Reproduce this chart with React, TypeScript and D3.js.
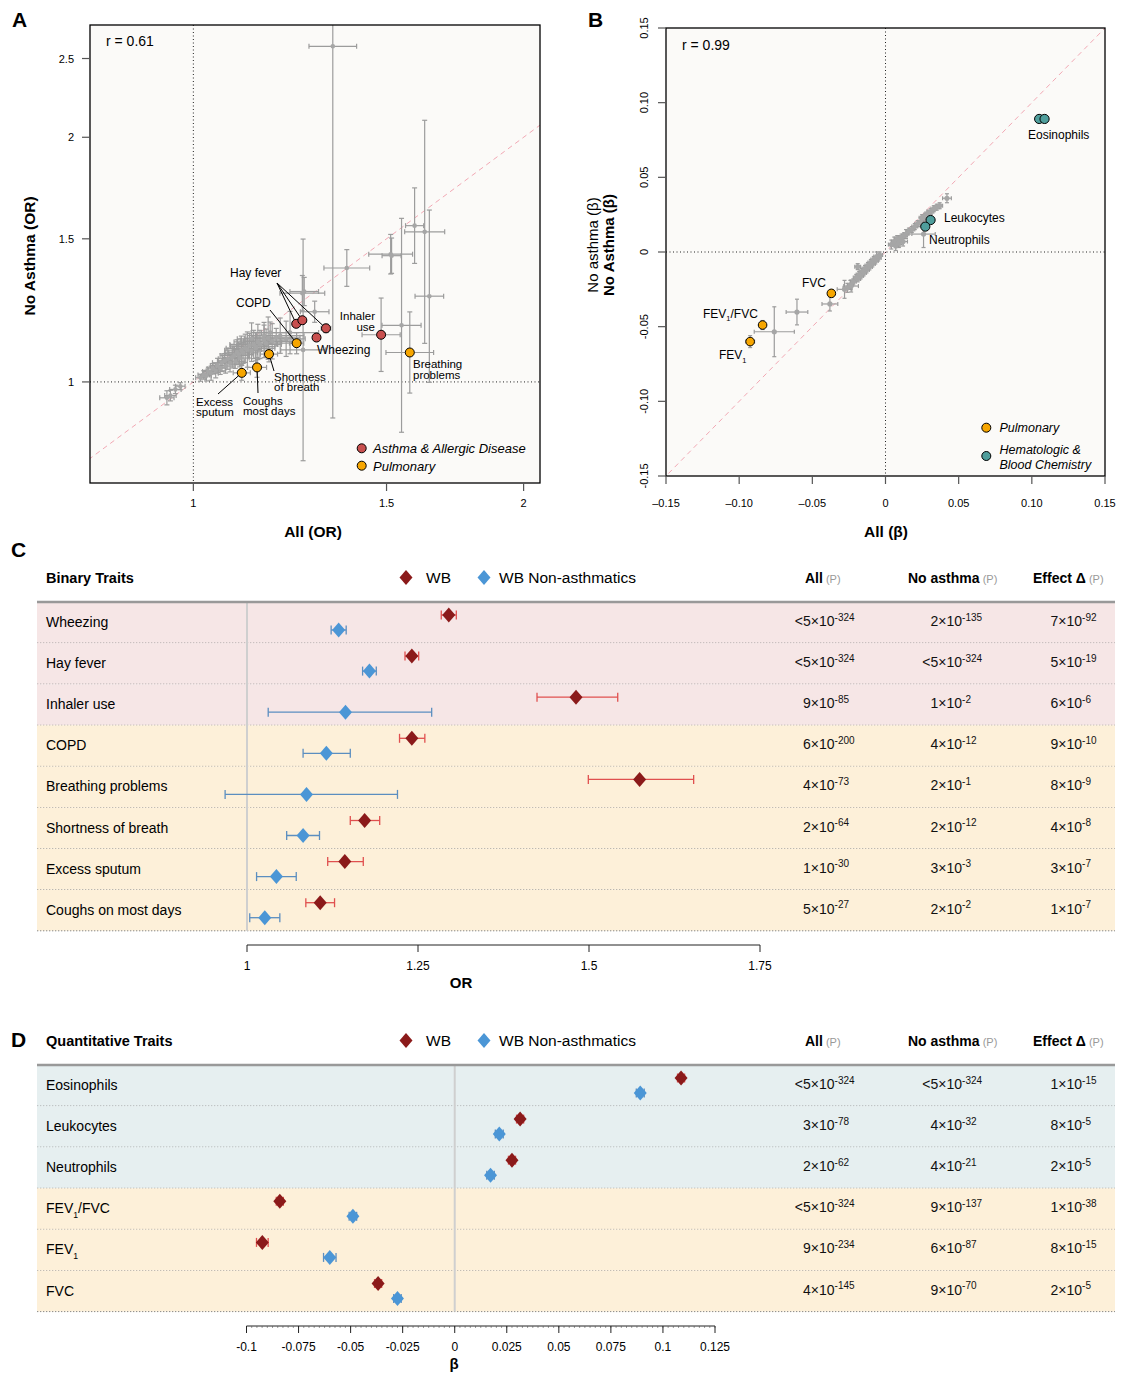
import React from "react";
import * as d3 from "d3";

const FONT = "'Liberation Sans', Arial, Helvetica, sans-serif";

// ---------------- Panel A: odds ratios, all vs non-asthmatics ----------------
// [OR all, OR no asthma, 95% half width (log) all, 95% half width (log) no asthma]
const aGray: number[][] = [
  [1.34, 2.588, 0.05, 1.053],
  [1.625, 1.53, 0.042, 0.316],
  [1.591, 1.557, 0.019, 0.107],
  [1.641, 1.275, 0.03, 0.244],
  [1.513, 1.436, 0.046, 0.056],
  [1.516, 1.43, 0.02, 0.05],
  [1.548, 1.174, 0.041, 0.303],
  [1.38, 1.381, 0.048, 0.052],
  [1.259, 1.095, 0.047, 0.314],
  [1.257, 1.286, 0.047, 0.05],
  [1.262, 1.292, 0.03, 0.04],
  [1.29, 1.22, 0.03, 0.03],
  [1.13, 1.13, 0.03, 0.045],
  [1.16, 1.14, 0.035, 0.03],
  [1.175, 1.15, 0.04, 0.03],
  [1.19, 1.135, 0.05, 0.025],
  [1.14, 1.105, 0.04, 0.04],
  [0.946, 0.956, 0.015, 0.02],
  [0.953, 0.962, 0.012, 0.015],
  [0.963, 0.979, 0.012, 0.012],
  [0.973, 0.988, 0.01, 0.01],
  [1.015, 1.012, 0.01, 0.01],
  [1.022, 1.02, 0.012, 0.012],
  [1.028, 1.018, 0.01, 0.015],
  [1.032, 1.03, 0.012, 0.012],
  [1.038, 1.025, 0.015, 0.02],
  [1.042, 1.038, 0.012, 0.015],
  [1.048, 1.032, 0.02, 0.02],
  [1.052, 1.048, 0.015, 0.02],
  [1.058, 1.04, 0.012, 0.018],
  [1.062, 1.056, 0.02, 0.025],
  [1.068, 1.062, 0.015, 0.02],
  [1.07, 1.046, 0.018, 0.02],
  [1.075, 1.068, 0.02, 0.03],
  [1.08, 1.055, 0.025, 0.025],
  [1.085, 1.072, 0.02, 0.03],
  [1.09, 1.078, 0.03, 0.025],
  [1.092, 1.06, 0.02, 0.02],
  [1.096, 1.088, 0.025, 0.035],
  [1.1, 1.082, 0.03, 0.03],
  [1.102, 1.07, 0.02, 0.025],
  [1.106, 1.094, 0.035, 0.04],
  [1.11, 1.086, 0.03, 0.03],
  [1.115, 1.1, 0.04, 0.04],
  [1.12, 1.096, 0.03, 0.05],
  [1.125, 1.108, 0.04, 0.035],
  [1.13, 1.092, 0.035, 0.03],
  [1.135, 1.112, 0.05, 0.04],
  [1.14, 1.1, 0.04, 0.045],
  [1.145, 1.12, 0.05, 0.05],
  [1.15, 1.112, 0.045, 0.04],
  [1.16, 1.126, 0.05, 0.05],
  [1.165, 1.116, 0.06, 0.04],
  [1.17, 1.132, 0.05, 0.06],
  [1.18, 1.122, 0.06, 0.05],
  [1.2, 1.14, 0.05, 0.05],
  [1.215, 1.13, 0.04, 0.05],
  [1.225, 1.15, 0.06, 0.06],
];

// [OR all, OR no asthma, half width all, half width no asthma]
const aAsthmaNames = ["Hay fever", "Hay fever", "Hay fever", "Wheezing", "Inhaler use"];
const aAsthma: number[][] = [
  [1.241, 1.179, 0.008, 0.01],
  [1.257, 1.191, 0.008, 0.01],
  [1.321, 1.164, 0.01, 0.012],
  [1.295, 1.134, 0.008, 0.01],
  [1.483, 1.143, 0.04, 0.104],
];
const aPulmonaryNames = ["COPD", "Shortness of breath", "Coughs most days", "Excess sputum", "Breathing problems"];
const aPulmonary: number[][] = [
  [1.242, 1.116, 0.015, 0.03],
  [1.172, 1.082, 0.018, 0.022],
  [1.143, 1.042, 0.02, 0.028],
  [1.107, 1.026, 0.018, 0.021],
  [1.575, 1.087, 0.05, 0.115],
];

// ---------------- Panel B: betas, all vs non-asthmatics ----------------
const bGray: number[][] = [
  [0.004, 0.005, 0.002, 0.003],
  [0.006, 0.007, 0.002, 0.003],
  [0.007, 0.004, 0.003, 0.003],
  [0.008, 0.009, 0.002, 0.002],
  [0.009, 0.006, 0.003, 0.003],
  [0.01, 0.008, 0.002, 0.003],
  [0.011, 0.01, 0.002, 0.002],
  [0.012, 0.007, 0.003, 0.003],
  [0.013, 0.011, 0.002, 0.002],
  [0.014, 0.012, 0.002, 0.003],
  [0.016, 0.014, 0.002, 0.002],
  [0.018, 0.015, 0.002, 0.002],
  [0.02, 0.017, 0.002, 0.002],
  [0.022, 0.019, 0.002, 0.002],
  [0.024, 0.02, 0.002, 0.003],
  [0.025, 0.023, 0.002, 0.002],
  [0.027, 0.024, 0.002, 0.002],
  [0.029, 0.026, 0.002, 0.002],
  [0.031, 0.027, 0.002, 0.002],
  [0.033, 0.029, 0.002, 0.002],
  [0.035, 0.03, 0.002, 0.002],
  [0.037, 0.031, 0.002, 0.002],
  [0.042, 0.036, 0.003, 0.003],
  [0.026, 0.012, 0.008, 0.009],
  [-0.004, -0.002, 0.002, 0.002],
  [-0.005, -0.004, 0.002, 0.002],
  [-0.006, -0.003, 0.002, 0.003],
  [-0.007, -0.006, 0.002, 0.002],
  [-0.008, -0.005, 0.002, 0.002],
  [-0.009, -0.008, 0.002, 0.002],
  [-0.01, -0.007, 0.002, 0.002],
  [-0.011, -0.01, 0.002, 0.002],
  [-0.012, -0.009, 0.002, 0.002],
  [-0.013, -0.012, 0.002, 0.002],
  [-0.014, -0.011, 0.002, 0.002],
  [-0.015, -0.014, 0.002, 0.002],
  [-0.016, -0.013, 0.002, 0.002],
  [-0.017, -0.016, 0.002, 0.002],
  [-0.018, -0.015, 0.002, 0.002],
  [-0.019, -0.018, 0.002, 0.002],
  [-0.02, -0.017, 0.002, 0.002],
  [-0.022, -0.02, 0.002, 0.002],
  [-0.024, -0.022, 0.002, 0.003],
  [-0.026, -0.024, 0.003, 0.003],
  [-0.028, -0.025, 0.005, 0.006],
  [-0.0235, -0.0228, 0.005, 0.004],
  [-0.019, -0.0098, 0.002, 0.002],
  [-0.038, -0.0348, 0.0054, 0.0047],
  [-0.0605, -0.0402, 0.0074, 0.0086],
  [-0.076, -0.0534, 0.0137, 0.0167],
];
const bPulmonaryNames = ["FVC", "FEV1/FVC", "FEV1"];
const bPulmonary: number[][] = [
  [-0.037, -0.0277, 0.0015, 0.002],
  [-0.084, -0.0489, 0.0015, 0.003],
  [-0.0925, -0.06, 0.003, 0.004],
];
const bHematoNames = ["Eosinophils", "Eosinophils", "Leukocytes", "Neutrophils"];
const bHemato: number[][] = [
  [0.105, 0.0891, 0.0015, 0.002],
  [0.1087, 0.0891, 0.0015, 0.002],
  [0.0308, 0.0214, 0.0015, 0.002],
  [0.0272, 0.017, 0.0015, 0.002],
];

// ---------------- Panel C: binary traits ----------------
const binaryTraits = ["Wheezing", "Hay fever", "Inhaler use", "COPD", "Breathing problems", "Shortness of breath", "Excess sputum", "Coughs on most days"];
const binaryGroup = ["allergic", "allergic", "allergic", "pulmonary", "pulmonary", "pulmonary", "pulmonary", "pulmonary"];
// [estimate, lower, upper]
const binaryWB: number[][] = [
  [1.295, 1.284, 1.306], [1.241, 1.231, 1.251], [1.481, 1.424, 1.542], [1.241, 1.223, 1.26],
  [1.574, 1.499, 1.653], [1.172, 1.151, 1.194], [1.143, 1.118, 1.17], [1.107, 1.086, 1.128],
];
const binaryNA: number[][] = [
  [1.134, 1.123, 1.145], [1.179, 1.169, 1.189], [1.144, 1.031, 1.27], [1.116, 1.082, 1.151],
  [1.087, 0.968, 1.22], [1.082, 1.058, 1.106], [1.043, 1.014, 1.072], [1.026, 1.004, 1.048],
];
const binaryPAll = ["<5e-324", "<5e-324", "9e-85", "6e-200", "4e-73", "2e-64", "1e-30", "5e-27"];
const binaryPNA = ["2e-135", "<5e-324", "1e-2", "4e-12", "2e-1", "2e-12", "3e-3", "2e-2"];
const binaryPDelta = ["7e-92", "5e-19", "6e-6", "9e-10", "8e-9", "4e-8", "3e-7", "1e-7"];
const orTicks = [1, 1.25, 1.5, 1.75];

// ---------------- Panel D: quantitative traits ----------------
const quantTraits = ["Eosinophils", "Leukocytes", "Neutrophils", "FEV1/FVC", "FEV1", "FVC"];
const quantGroup = ["hemato", "hemato", "hemato", "pulmonary", "pulmonary", "pulmonary"];
const quantWB: number[][] = [
  [0.1087, 0.107, 0.1104], [0.0314, 0.0297, 0.0331], [0.0275, 0.0258, 0.0292],
  [-0.084, -0.0857, -0.0823], [-0.0924, -0.0952, -0.0896], [-0.0368, -0.0385, -0.0351],
];
const quantNA: number[][] = [
  [0.0891, 0.0872, 0.091], [0.0214, 0.0195, 0.0233], [0.0172, 0.0154, 0.019],
  [-0.0489, -0.0507, -0.0471], [-0.06, -0.063, -0.057], [-0.0275, -0.0293, -0.0257],
];
const quantPAll = ["<5e-324", "3e-78", "2e-62", "<5e-324", "9e-234", "4e-145"];
const quantPNA = ["<5e-324", "4e-32", "4e-21", "9e-137", "6e-87", "9e-70"];
const quantPDelta = ["1e-15", "8e-5", "2e-5", "1e-38", "8e-15", "2e-5"];
const betaTicks = [-0.1, -0.075, -0.05, -0.025, 0, 0.025, 0.05, 0.075, 0.1, 0.125];

const C = {
  red: "#c8504f",
  orange: "#f7a600",
  teal: "#4f9e9c",
  gray: "#a6a6a6",
  grayBar: "#9c9c9c",
  wb: "#8b1a1a",
  wbBar: "#e0504f",
  na: "#4b96d6",
  naBar: "#5b8ec0",
  pink: "#f6e6e6",
  cream: "#fdf0d9",
  blue: "#e6eff0",
};

const rowFill: Record<string, string> = { allergic: C.pink, pulmonary: C.cream, hemato: C.blue };

function label(text: string, size: number) {
  if (text.startsWith("FEV1")) {
    const rest = text.slice(4);
    return [
      <tspan key="a">FEV</tspan>,
      <tspan key="b" dy={size * 0.3} fontSize={size * 0.62}>1</tspan>,
      <tspan key="c" dy={-size * 0.3}>{rest}</tspan>,
    ];
  }
  return text;
}

function Cross({ cx, cy, x0, x1, y0, y1, color, cap = 2.5, w = 1.2 }: any) {
  return (
    <g stroke={color} strokeWidth={w}>
      <line x1={x0} x2={x1} y1={cy} y2={cy} />
      <line x1={cx} x2={cx} y1={y0} y2={y1} />
      <line x1={x0} x2={x0} y1={cy - cap} y2={cy + cap} />
      <line x1={x1} x2={x1} y1={cy - cap} y2={cy + cap} />
      <line x1={cx - cap} x2={cx + cap} y1={y0} y2={y0} />
      <line x1={cx - cap} x2={cx + cap} y1={y1} y2={y1} />
    </g>
  );
}

function PanelA() {
  const x = d3.scaleLog().domain([0.805, 2.07]).range([90, 540]);
  const y = d3.scaleLog().domain([0.751, 2.749]).range([483, 25]);
  const px = (d: number[]) => [x(d[0]), y(d[1])];
  const lo = (v: number, e: number) => v * Math.exp(-e);
  const hi = (v: number, e: number) => v * Math.exp(e);
  const cross = (d: number[], i: number, color: string) => (
    <Cross key={i} cx={x(d[0])} cy={y(d[1])} x0={x(lo(d[0], d[2]))} x1={x(hi(d[0], d[2]))}
      y0={y(lo(d[1], d[3]))} y1={y(hi(d[1], d[3]))} color={color} />
  );
  const hay = aAsthma.slice(0, 3).map(px);
  const copd = px(aPulmonary[0]);
  const sob = px(aPulmonary[1]);
  const cough = px(aPulmonary[2]);
  const spu = px(aPulmonary[3]);
  return (
    <g fontFamily={FONT}>
      <defs>
        <clipPath id="clipA"><rect x={90} y={25} width={450} height={458} /></clipPath>
      </defs>
      <rect x={90} y={25} width={450} height={458} fill="#fbfaf8" />
      <g clipPath="url(#clipA)">
        <line x1={x(0.7)} y1={y(0.7)} x2={x(2.9)} y2={y(2.9)} stroke="#f2a8b4" strokeDasharray="5 4" />
        <line x1={x(1)} x2={x(1)} y1={25} y2={483} stroke="#222" strokeDasharray="1 2.5" />
        <line x1={90} x2={540} y1={y(1)} y2={y(1)} stroke="#222" strokeDasharray="1 2.5" />
        {aGray.map((d, i) => cross(d, i, C.grayBar))}
        {aGray.map((d, i) => <circle key={i} cx={x(d[0])} cy={y(d[1])} r={2.3} fill={C.gray} />)}
        {aAsthma.map((d, i) => cross(d, i, C.grayBar))}
        {aPulmonary.map((d, i) => cross(d, i, C.grayBar))}
      </g>
      {/* annotation leaders */}
      <g stroke="#000" strokeWidth={1}>
        {hay.map((p, i) => <line key={i} x1={277} y1={283} x2={p[0]} y2={p[1]} />)}
        <line x1={270} y1={310} x2={copd[0]} y2={copd[1]} />
        <line x1={sob[0]} y1={sob[1]} x2={274} y2={371} />
        <line x1={spu[0]} y1={spu[1]} x2={218} y2={394} />
        <line x1={cough[0]} y1={cough[1]} x2={258} y2={393} />
      </g>
      {aAsthma.map((d, i) => <circle key={i} cx={x(d[0])} cy={y(d[1])} r={4.5} fill={C.red} stroke="#000" strokeWidth={1} />)}
      {aPulmonary.map((d, i) => <circle key={i} cx={x(d[0])} cy={y(d[1])} r={4.5} fill={C.orange} stroke="#000" strokeWidth={1} />)}
      <rect x={90} y={25} width={450} height={458} fill="none" stroke="#000" strokeWidth={1.3} />
      <g fontSize={12} fill="#000">
        <text x={230} y={277}>{aAsthmaNames[0]}</text>
        <text x={236} y={307}>{aPulmonaryNames[0]}</text>
        <text x={375} y={320} fontSize={11.5} textAnchor="end">Inhaler</text>
        <text x={375} y={330.5} fontSize={11.5} textAnchor="end">use</text>
        <text x={317} y={354}>{aAsthmaNames[3]}</text>
        <text x={274} y={380.5} fontSize={11.5}>Shortness</text>
        <text x={274} y={391} fontSize={11.5}>of breath</text>
        <text x={196} y={405.5} fontSize={11.5}>Excess</text>
        <text x={196} y={416} fontSize={11.5}>sputum</text>
        <text x={243} y={404.5} fontSize={11.5}>Coughs</text>
        <text x={243} y={415} fontSize={11.5}>most days</text>
        <text x={413} y={368} fontSize={11.5}>Breathing</text>
        <text x={413} y={378.5} fontSize={11.5}>problems</text>
      </g>
      <text x={106} y={46} fontSize={14}>r = 0.61</text>
      <circle cx={361.7} cy={448.3} r={4.5} fill={C.red} stroke="#000" />
      <text x={373} y={453} fontSize={13} fontStyle="italic">Asthma &amp; Allergic Disease</text>
      <circle cx={361.7} cy={465.7} r={4.5} fill={C.orange} stroke="#000" />
      <text x={373} y={470.5} fontSize={13} fontStyle="italic">Pulmonary</text>
      {/* axes */}
      {[1, 1.5, 2, 2.5].map((t) => (
        <g key={t}>
          <line x1={82} x2={90} y1={y(t)} y2={y(t)} stroke="#555" strokeWidth={1.2} />
          <text x={74} y={y(t) + 4} fontSize={11} textAnchor="end">{t}</text>
        </g>
      ))}
      {[1, 1.5, 2].map((t) => (
        <g key={t}>
          <line x1={x(t)} x2={x(t)} y1={483} y2={491} stroke="#555" strokeWidth={1.2} />
          <text x={x(t)} y={507} fontSize={11} textAnchor="middle">{t}</text>
        </g>
      ))}
      <text x={313} y={537} fontSize={15.5} fontWeight="bold" textAnchor="middle">All (OR)</text>
      <text transform="translate(35,256) rotate(-90)" fontSize={15.5} fontWeight="bold" textAnchor="middle">No Asthma (OR)</text>
    </g>
  );
}

function PanelB() {
  const x = d3.scaleLinear().domain([-0.15, 0.15]).range([666, 1105]);
  const y = d3.scaleLinear().domain([-0.15, 0.15]).range([476, 28]);
  const cross = (d: number[], i: number, color: string) => (
    <Cross key={i} cx={x(d[0])} cy={y(d[1])} x0={x(d[0] - d[2])} x1={x(d[0] + d[2])}
      y0={y(d[1] - d[3])} y1={y(d[1] + d[3])} color={color} cap={2} />
  );
  const ticks = [-0.15, -0.1, -0.05, 0, 0.05, 0.1, 0.15];
  const fmt = (t: number) => (t === 0 ? "0" : d3.format(".2f")(Math.abs(t)));
  return (
    <g fontFamily={FONT}>
      <defs>
        <clipPath id="clipB"><rect x={666} y={28} width={439} height={448} /></clipPath>
      </defs>
      <rect x={666} y={28} width={439} height={448} fill="#fbfaf8" />
      <g clipPath="url(#clipB)">
        <line x1={x(-0.2)} y1={y(-0.2)} x2={x(0.2)} y2={y(0.2)} stroke="#f2a8b4" strokeDasharray="5 4" />
        <line x1={x(0)} x2={x(0)} y1={28} y2={476} stroke="#222" strokeDasharray="1 2.5" />
        <line x1={666} x2={1105} y1={y(0)} y2={y(0)} stroke="#222" strokeDasharray="1 2.5" />
        {bGray.map((d, i) => cross(d, i, C.grayBar))}
        {bGray.map((d, i) => <circle key={i} cx={x(d[0])} cy={y(d[1])} r={2.6} fill={C.gray} />)}
        {bPulmonary.map((d, i) => cross(d, i, C.grayBar))}
        {bHemato.map((d, i) => cross(d, i, C.grayBar))}
      </g>
      {bPulmonary.map((d, i) => <circle key={i} cx={x(d[0])} cy={y(d[1])} r={4.3} fill={C.orange} stroke="#000" />)}
      {bHemato.map((d, i) => <circle key={i} cx={x(d[0])} cy={y(d[1])} r={4.6} fill={C.teal} stroke="#000" />)}
      <rect x={666} y={28} width={439} height={448} fill="none" stroke="#000" strokeWidth={1.3} />
      <g fontSize={12}>
        <text x={1028} y={138.5}>{bHematoNames[0]}</text>
        <text x={944} y={221.5}>{bHematoNames[2]}</text>
        <text x={929} y={243.5}>{bHematoNames[3]}</text>
        <text x={802} y={287}>{label(bPulmonaryNames[0], 12)}</text>
        <text x={703} y={317.5}>{label(bPulmonaryNames[1], 12)}</text>
        <text x={719} y={359}>{label(bPulmonaryNames[2], 12)}</text>
      </g>
      <text x={682} y={50} fontSize={14}>r = 0.99</text>
      <circle cx={986.3} cy={427.7} r={4.5} fill={C.orange} stroke="#000" />
      <text x={999.5} y={432} fontSize={12.5} fontStyle="italic">Pulmonary</text>
      <circle cx={986.3} cy={456} r={4.5} fill={C.teal} stroke="#000" />
      <text x={999.5} y={453.5} fontSize={12.5} fontStyle="italic">Hematologic &amp;</text>
      <text x={999.5} y={468.5} fontSize={12.5} fontStyle="italic">Blood Chemistry</text>
      {ticks.map((t) => (
        <g key={t}>
          <line x1={x(t)} x2={x(t)} y1={476} y2={484} stroke="#555" strokeWidth={1.2} />
          <text x={x(t)} y={507} fontSize={11} textAnchor="middle">{t < 0 ? "\u2013" + fmt(t) : fmt(t)}</text>
          <line x1={658} x2={666} y1={y(t)} y2={y(t)} stroke="#555" strokeWidth={1.2} />
          <text transform={`translate(648,${y(t)}) rotate(-90)`} fontSize={11} textAnchor="middle">{t < 0 ? "-" + fmt(t) : fmt(t)}</text>
        </g>
      ))}
      <text x={886} y={537} fontSize={15.5} fontWeight="bold" textAnchor="middle">All (β)</text>
      <text transform="translate(598,245) rotate(-90)" fontSize={15} textAnchor="middle">No asthma (β)</text>
      <text transform="translate(614,245) rotate(-90)" fontSize={15} fontWeight="bold" textAnchor="middle">No Asthma (β)</text>
    </g>
  );
}

function PVal({ x, y, s }: { x: number; y: number; s: string }) {
  const m = s.match(/^(<?)(\d)e(-\d+)$/)!;
  const size = 14;
  return (
    <text x={m[1] ? x - size * 0.584 : x} y={y} fontSize={size} fill="#111">
      {m[1]}{m[2]}×10
      <tspan dy={-5.5} fontSize={10}>{m[3]}</tspan>
    </text>
  );
}

function Forest({ title, top, traits, groups, wb, na, pAll, pNA, pDelta, scale, zero, ticks, tickFmt, axisY, axisTitle, minor }: any) {
  const rowH = 41.1;
  const n = traits.length;
  const bottom = top + n * rowH;
  const headY = top - 19;
  const diamond = (cx: number, cy: number) => `M${cx},${cy - 7.5}L${cx + 6.5},${cy}L${cx},${cy + 7.5}L${cx - 6.5},${cy}Z`;
  const bar = (d: number[], cy: number, color: string) => (
    <g stroke={color} strokeWidth={1.3}>
      <line x1={scale(d[1])} x2={scale(d[2])} y1={cy} y2={cy} />
      <line x1={scale(d[1])} x2={scale(d[1])} y1={cy - 4.5} y2={cy + 4.5} />
      <line x1={scale(d[2])} x2={scale(d[2])} y1={cy - 4.5} y2={cy + 4.5} />
    </g>
  );
  return (
    <g fontFamily={FONT}>
      <text x={46} y={headY} fontSize={14.5} fontWeight="bold">{title}</text>
      <path d={diamond(406, headY - 5.5)} fill={C.wb} />
      <text x={426} y={headY - 0.5} fontSize={15.5}>WB</text>
      <path d={diamond(484, headY - 5.5)} fill={C.na} />
      <text x={499} y={headY - 0.5} fontSize={15.5}>WB Non-asthmatics</text>
      {[["All", 805], ["No asthma", 908], ["Effect Δ", 1033]].map(([t, xx]: any) => (
        <text key={t} x={xx} y={headY} fontSize={14}>
          <tspan fontWeight="bold">{t}</tspan>
          <tspan fontSize={11} fill="#999"> (P)</tspan>
        </text>
      ))}
      {traits.map((t: string, i: number) => {
        const y0 = top + i * rowH;
        return (
          <g key={t}>
            <rect x={37} y={y0} width={1078} height={rowH} fill={rowFill[groups[i]]} />
            <line x1={37} x2={1115} y1={y0 + rowH} y2={y0 + rowH} stroke="#888" strokeDasharray="1.3 1.7" />
          </g>
        );
      })}
      <line x1={scale(zero)} x2={scale(zero)} y1={top} y2={bottom} stroke="#cfcfcf" strokeWidth={2} />
      <line x1={37} x2={1115} y1={top} y2={top} stroke="#999" strokeWidth={2.5} />
      {traits.map((t: string, i: number) => {
        const y0 = top + i * rowH;
        return (
          <g key={t}>
            <text x={46} y={y0 + 25} fontSize={14}>{label(t, 14)}</text>
            {bar(wb[i], y0 + 13, C.wbBar)}
            {bar(na[i], y0 + 28, C.naBar)}
            <path d={diamond(scale(wb[i][0]), y0 + 13)} fill={C.wb} />
            <path d={diamond(scale(na[i][0]), y0 + 28)} fill={C.na} />
            <PVal x={803} y={y0 + 24} s={pAll[i]} />
            <PVal x={930.5} y={y0 + 24} s={pNA[i]} />
            <PVal x={1050.5} y={y0 + 24} s={pDelta[i]} />
          </g>
        );
      })}
      <line x1={scale(ticks[0])} x2={scale(ticks[ticks.length - 1])} y1={axisY} y2={axisY} stroke="#222" />
      {minor && minor.map((t: number) => (
        <line key={t} x1={scale(t)} x2={scale(t)} y1={axisY} y2={axisY + 2} stroke="#555" strokeWidth={0.6} />
      ))}
      {ticks.map((t: number) => (
        <g key={t}>
          <line x1={scale(t)} x2={scale(t)} y1={axisY} y2={axisY + 7} stroke="#222" />
          <text x={scale(t)} y={axisY + 25} fontSize={12} textAnchor="middle">{tickFmt(t)}</text>
        </g>
      ))}
      <text x={axisTitle[1]} y={axisY + 43} fontSize={15} fontWeight="bold" textAnchor="middle">{axisTitle[0]}</text>
    </g>
  );
}

export default function App() {
  const orScale = d3.scaleLinear().domain([1, 1.75]).range([247, 760]);
  const betaScale = d3.scaleLinear().domain([-0.1, 0.125]).range([246.5, 715]);
  const minor = d3.range(-0.1, 0.1251, 0.0025);
  return (
    <svg width={1121} height={1383} style={{ position: "absolute", left: 0, top: 0, background: "#fff" }}>
      <g fontFamily={FONT} fontWeight="bold" fontSize={21}>
        <text x={12} y={27}>A</text>
        <text x={588} y={27}>B</text>
        <text x={11} y={557}>C</text>
        <text x={11} y={1047}>D</text>
      </g>
      <PanelA />
      <PanelB />
      <Forest title="Binary Traits" top={602} traits={binaryTraits} groups={binaryGroup} wb={binaryWB} na={binaryNA}
        pAll={binaryPAll} pNA={binaryPNA} pDelta={binaryPDelta} scale={orScale} zero={1} ticks={orTicks}
        tickFmt={(t: number) => String(t)} axisY={945} axisTitle={["OR", 461]} />
      <Forest title="Quantitative Traits" top={1065} traits={quantTraits} groups={quantGroup} wb={quantWB} na={quantNA}
        pAll={quantPAll} pNA={quantPNA} pDelta={quantPDelta} scale={betaScale} zero={0} ticks={betaTicks}
        tickFmt={(t: number) => String(+t.toFixed(3))} axisY={1326} axisTitle={["β", 454]} minor={minor} />
    </svg>
  );
}
